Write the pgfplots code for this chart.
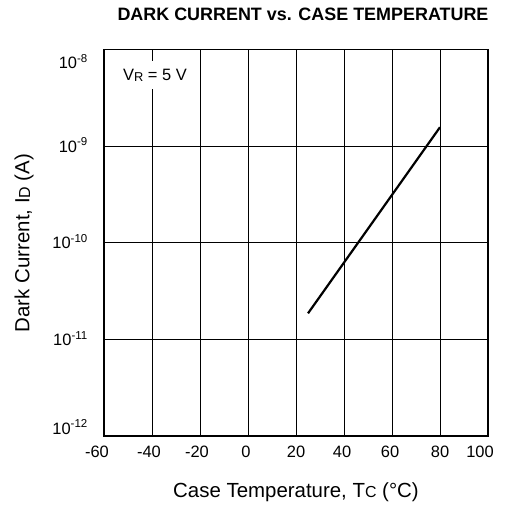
\documentclass[border=0pt]{standalone}
\usepackage{fontspec}
\setmainfont{Liberation Sans}
\usepackage{pgfplots}
\pgfplotsset{compat=1.18}
\newcommand{\subs}[1]{\raisebox{-0.9bp}{\fontsize{0.78\fontdimen6\font}{13}\selectfont #1}}
\newcommand{\yl}[2]{\raisebox{#1}[0pt][0pt]{10\textsuperscript{#2}}}
\newcommand{\xl}[2]{\makebox[0pt]{\hspace*{#1}#2}}
\begin{document}
\begin{tikzpicture}[x=1bp,y=1bp]
\useasboundingbox (-104,-72) rectangle (423,436);
\begin{axis}[
  at={(0,0)}, anchor=south west,
  scale only axis, width=384bp, height=386.5bp,
  xmin=-60, xmax=100, ymode=log, ymin=1e-12, ymax=1e-8,
  xtick={-60,-40,-20,0,20,40,60,80,100},
  xticklabels={\xl{-14bp}{-60},\xl{-6bp}{-40},\xl{-6bp}{-20},\xl{-4bp}{0},\xl{0bp}{20},\xl{-4bp}{40},\xl{-4bp}{60},\xl{0bp}{80},\xl{-16bp}{100}},
  ytick={1e-12,1e-11,1e-10,1e-9,1e-8},
  yticklabels={\yl{2bp}{-12},\yl{-5.9bp}{-11},\yl{-5.9bp}{-10},\yl{-5.9bp}{-9},\yl{-19.4bp}{-8}},
  yminorticks=false,
  grid=major, major grid style={black, line width=0.9bp},
  axis line style={line width=1.3bp},
  major tick length=0pt,
  tick label style={font=\fontsize{16.5}{18}\selectfont},
  xticklabel style={anchor=north, inner sep=0pt, yshift=-10bp},
  yticklabel style={anchor=east, inner sep=0pt, xshift=-16bp},
  /pgf/number format/assume math mode=true,
  clip=false,
]
\addplot[black, line width=2.2bp] coordinates {(25,1.86e-11) (80,1.57e-9)};
\end{axis}
\node[fill=white, inner xsep=2bp, minimum height=28bp] at (51,361) {\fontsize{16.5}{18}\selectfont V\subs{R} = 5 V};
\node[anchor=base] at (199,415) {\fontsize{18}{20}\selectfont\bfseries DARK CURRENT vs. CASE TEMPERATURE};
\node[anchor=base] at (192,-61) {\fontsize{20.5}{23}\selectfont Case Temperature, T\subs{C} (\textdegree C)};
\node[rotate=90] at (-80,193) {\fontsize{20.5}{23}\selectfont Dark Current, I\subs{D} (A)};
\end{tikzpicture}
\end{document}
